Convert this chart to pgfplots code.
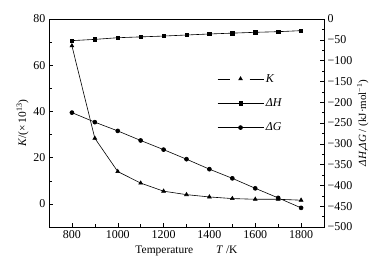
\documentclass[border=0pt]{standalone}
\usepackage{fontspec}
\setmainfont{Liberation Serif}
\usepackage{pgfplots}
\pgfplotsset{compat=1.18}
\begin{document}
\begin{tikzpicture}
\path[use as bounding box] (-49bp,-39bp) rectangle (338bp,227bp);
\pgfplotsset{
  every axis/.append style={
    at={(0,0)}, anchor=south west,
    scale only axis, width=275bp, height=208bp,
    xmin=700, xmax=1900,
    tick align=inside,
    line width=0.5bp,
    tick style={line width=0.5bp, black},
    major tick length=4bp, minor tick length=2.5bp,
    tick label style={font=\fontsize{12}{14}\selectfont},
    label style={font=\fontsize{11.5}{14}\selectfont},
    /pgf/number format/assume math mode=true,
    /pgf/number format/1000 sep={},
  },
}
\begin{axis}[
  ymin=-10, ymax=80,
  xtick={800,1000,...,1800}, minor xtick={900,1100,...,1700},
  ytick={0,20,...,80}, minor ytick={-10,10,30,50,70},
  xtick pos=bottom, ytick pos=left,
  xlabel={Temperature\hspace{2em}\textit{T} /K},
  ylabel={\textit{K}/(×\,10\textsuperscript{13})},
  ylabel style={yshift=-2bp},
]
\addplot[black, line width=0.6bp, mark=triangle*, mark size=2.2bp] coordinates {
(800,68.4)(900,28.4)(1000,14)(1100,9)(1200,5.5)(1300,4.0)(1400,3.0)(1500,2.3)(1600,2.0)(1700,2.0)(1800,1.6)};
\end{axis}
\begin{axis}[
  ymin=-500, ymax=0,
  axis y line*=right, axis x line=none,
  ytick={-500,-450,...,0},
  yticklabels={−500,−450,−400,−350,−300,−250,−200,−150,−100,−50,0},
  minor ytick={-475,-425,...,-25},
  ylabel={\textit{ΔH},\textit{ΔG} / (kJ·mol\textsuperscript{−1})},
  ylabel style={font=\fontsize{11}{13}\selectfont, yshift=2bp},
  legend style={draw=none, fill=none, at={(0.60,0.755)}, anchor=north west,
    font=\fontsize{12}{14}\selectfont, row sep=11bp,
    /tikz/every even column/.append style={column sep=2bp}},
  legend cell align=left,
]
\addlegendimage{legend image code/.code={
  \draw[black, line width=0.6bp] (0bp,0bp)--(12bp,0bp);
  \draw[black, line width=0.6bp] (32bp,0bp)--(46bp,0bp);
  \draw[black, mark=triangle*, mark size=2.2bp] plot coordinates {(23bp,0bp)};}}
\addlegendentry{\textit{K}}
\addplot[black, line width=0.6bp, mark=square*, mark size=1.7bp,
  legend image code/.code={
  \draw[black, line width=0.6bp] (0bp,0bp)--(46bp,0bp);
  \draw[black, mark=square*, mark size=1.7bp] plot coordinates {(23bp,0bp)};}] coordinates {
(800,-52)(900,-49)(1000,-45)(1100,-43)(1200,-41)(1300,-38.5)(1400,-36)(1500,-34)(1600,-32)(1700,-30.5)(1800,-28)};
\addlegendentry{\textit{ΔH}}
\addplot[black, line width=0.6bp, mark=*, mark size=2bp,
  legend image code/.code={
  \draw[black, line width=0.6bp] (0bp,0bp)--(46bp,0bp);
  \draw[black, mark=*, mark size=2bp] plot coordinates {(23bp,0bp)};}] coordinates {
(800,-225)(900,-248)(1000,-269)(1100,-292)(1200,-314)(1300,-337)(1400,-361)(1500,-383)(1600,-407)(1700,-430)(1800,-454)};
\addlegendentry{\textit{ΔG}}
\end{axis}
\end{tikzpicture}
\end{document}
